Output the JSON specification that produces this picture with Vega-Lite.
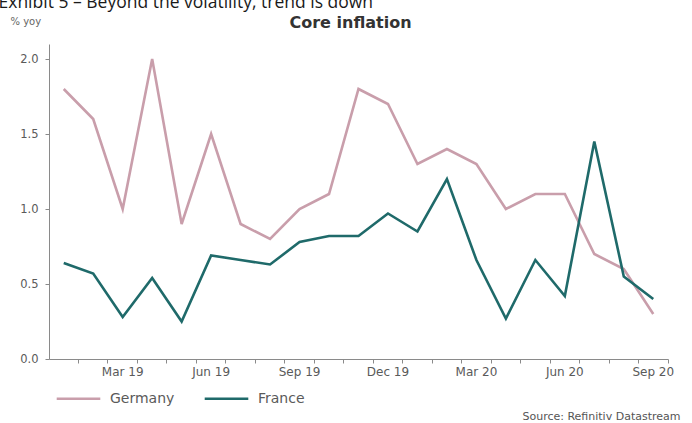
{
  "$schema": "https://vega.github.io/schema/vega-lite/v6.json",
  "width": 619,
  "height": 315,
  "autosize": {"type": "none"},
  "padding": {"left": 49, "top": 44, "right": 24, "bottom": 64},
  "background": "white",
  "config": {
    "view": {"stroke": null},
    "font": "DejaVu Sans",
    "axis": {"grid": false}
  },
  "data": {
    "values": [
      {"month": "Jan 19", "country": "Germany", "value": 1.8},
      {"month": "Feb 19", "country": "Germany", "value": 1.6},
      {"month": "Mar 19", "country": "Germany", "value": 1.0},
      {"month": "Apr 19", "country": "Germany", "value": 2.0},
      {"month": "May 19", "country": "Germany", "value": 0.9},
      {"month": "Jun 19", "country": "Germany", "value": 1.5},
      {"month": "Jul 19", "country": "Germany", "value": 0.9},
      {"month": "Aug 19", "country": "Germany", "value": 0.8},
      {"month": "Sep 19", "country": "Germany", "value": 1.0},
      {"month": "Oct 19", "country": "Germany", "value": 1.1},
      {"month": "Nov 19", "country": "Germany", "value": 1.8},
      {"month": "Dec 19", "country": "Germany", "value": 1.7},
      {"month": "Jan 20", "country": "Germany", "value": 1.3},
      {"month": "Feb 20", "country": "Germany", "value": 1.4},
      {"month": "Mar 20", "country": "Germany", "value": 1.3},
      {"month": "Apr 20", "country": "Germany", "value": 1.0},
      {"month": "May 20", "country": "Germany", "value": 1.1},
      {"month": "Jun 20", "country": "Germany", "value": 1.1},
      {"month": "Jul 20", "country": "Germany", "value": 0.7},
      {"month": "Aug 20", "country": "Germany", "value": 0.6},
      {"month": "Sep 20", "country": "Germany", "value": 0.3},
      {"month": "Jan 19", "country": "France", "value": 0.64},
      {"month": "Feb 19", "country": "France", "value": 0.57},
      {"month": "Mar 19", "country": "France", "value": 0.28},
      {"month": "Apr 19", "country": "France", "value": 0.54},
      {"month": "May 19", "country": "France", "value": 0.25},
      {"month": "Jun 19", "country": "France", "value": 0.69},
      {"month": "Jul 19", "country": "France", "value": 0.66},
      {"month": "Aug 19", "country": "France", "value": 0.63},
      {"month": "Sep 19", "country": "France", "value": 0.78},
      {"month": "Oct 19", "country": "France", "value": 0.82},
      {"month": "Nov 19", "country": "France", "value": 0.82},
      {"month": "Dec 19", "country": "France", "value": 0.97},
      {"month": "Jan 20", "country": "France", "value": 0.85},
      {"month": "Feb 20", "country": "France", "value": 1.2},
      {"month": "Mar 20", "country": "France", "value": 0.66},
      {"month": "Apr 20", "country": "France", "value": 0.27},
      {"month": "May 20", "country": "France", "value": 0.66},
      {"month": "Jun 20", "country": "France", "value": 0.42},
      {"month": "Jul 20", "country": "France", "value": 1.45},
      {"month": "Aug 20", "country": "France", "value": 0.55},
      {"month": "Sep 20", "country": "France", "value": 0.4}
    ]
  },
  "layer": [
    {
      "transform": [{"filter": "datum.country === 'Germany'"}],
      "mark": {"type": "line", "strokeWidth": 2.6},
      "encoding": {
        "x": {
          "field": "month",
          "type": "ordinal",
          "sort": null,
          "scale": {"type": "band", "paddingInner": 0, "paddingOuter": 0},
          "axis": {
            "orient": "bottom",
            "bandPosition": 1,
            "labelExpr": "test(/^(Mar|Jun|Sep|Dec)/, datum.value) ? datum.value : ''",
            "labelAngle": 0,
            "labelOverlap": false,
            "labelFontSize": 12,
            "labelColor": "#5a5a5a",
            "labelPadding": 3,
            "tickSize": 4,
            "tickColor": "#8a8a8a",
            "domainColor": "#8a8a8a",
            "title": "Exhibit 5 – Beyond the volatility, trend is down",
            "titleFont": "Open Sans",
            "titleX": -51,
            "titleY": -352,
            "titleAlign": "left",
            "titleBaseline": "alphabetic",
            "titleFontSize": 17.5,
            "titleFontWeight": "normal",
            "titleColor": "#1a1a1a"
          }
        },
        "y": {
          "field": "value",
          "type": "quantitative",
          "scale": {"domain": [0, 2.1], "nice": false},
          "axis": {
            "orient": "left",
            "values": [0, 0.5, 1, 1.5, 2],
            "format": ".1f",
            "labelFontSize": 11.5,
            "labelColor": "#5a5a5a",
            "labelPadding": 7,
            "tickSize": 4,
            "tickColor": "#8a8a8a",
            "domainColor": "#8a8a8a",
            "title": "% yoy",
            "titleAngle": 0,
            "titleAlign": "left",
            "titleBaseline": "middle",
            "titleX": -39,
            "titleY": -23,
            "titleFontSize": 10,
            "titleFontWeight": "normal",
            "titleColor": "#666666"
          }
        },
        "color": {
          "field": "country",
          "type": "nominal",
          "scale": {"domain": ["Germany", "France"], "range": ["#c99eab", "#1f6a6a"]},
          "legend": {
            "orient": "none",
            "direction": "horizontal",
            "legendX": 6,
            "legendY": 331,
            "title": null,
            "padding": 0,
            "symbolType": "stroke",
            "symbolSize": 1900,
            "symbolStrokeWidth": 2.6,
            "labelFontSize": 14,
            "labelColor": "#5a5a5a",
            "labelOffset": 8,
            "columnPadding": 24
          }
        }
      }
    },
    {
      "transform": [{"filter": "datum.country === 'France'"}],
      "mark": {"type": "line", "strokeWidth": 2.6},
      "encoding": {
        "x": {
          "field": "month",
          "type": "ordinal",
          "sort": null,
          "scale": {"type": "band", "paddingInner": 0, "paddingOuter": 0},
          "axis": {
            "orient": "top",
            "labels": false,
            "ticks": false,
            "domain": false,
            "title": "Core inflation",
            "titleX": 301,
            "titleY": -22,
            "titleAlign": "center",
            "titleBaseline": "middle",
            "titleFontSize": 16,
            "titleFontWeight": "bold",
            "titleColor": "#333333"
          }
        },
        "y": {
          "field": "value",
          "type": "quantitative",
          "scale": {"domain": [0, 2.1], "nice": false},
          "axis": {
            "orient": "right",
            "labels": false,
            "ticks": false,
            "domain": false,
            "title": "Source: Refinitiv Datastream",
            "titleAngle": 0,
            "titleAlign": "right",
            "titleBaseline": "middle",
            "titleX": 12,
            "titleY": 372,
            "titleFontSize": 11,
            "titleFontWeight": "normal",
            "titleColor": "#555555"
          }
        },
        "color": {
          "field": "country",
          "type": "nominal",
          "scale": {"domain": ["Germany", "France"], "range": ["#c99eab", "#1f6a6a"]}
        }
      }
    }
  ],
  "resolve": {"axis": {"x": "independent", "y": "independent"}}
}
